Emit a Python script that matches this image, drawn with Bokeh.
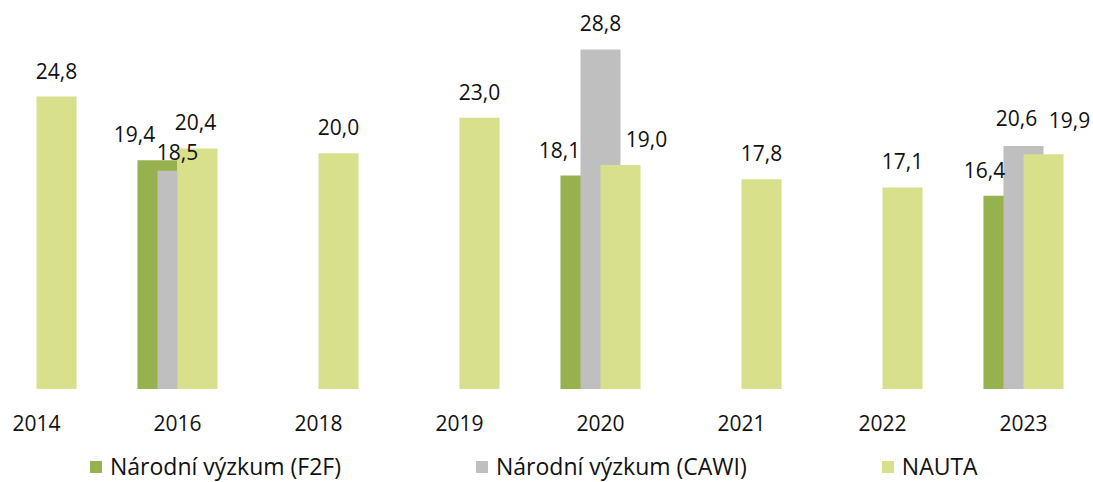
from bokeh.plotting import figure
from bokeh.models import ColumnDataSource, Legend, LegendItem, FixedTicker, Range1d
from bokeh.transform import dodge
from bokeh.core.properties import value
from bokeh.embed import file_html
from bokeh.resources import INLINE

# ---- data ----
years = ["2014", "2016", "2018", "2019", "2020", "2021", "2022", "2023"]
f2f = [None, 19.4, None, None, 18.1, None, None, 16.4]
cawi = [None, 18.5, None, None, 28.8, None, None, 20.6]
nauta = [24.8, 20.4, 20.0, 23.0, 19.0, 17.8, 17.1, 19.9]
series_names = ["Národní výzkum (F2F)", "Národní výzkum (CAWI)", "NAUTA"]

# ---- styling ----
colors = ["#97B14E", "#BFBFBF", "#D8E08B"]
FONT = "Open Sans"
FS = "21px"
LEG_FS = "23px"
bar_w = 0.284
dodges = [-0.142, 0.0, 0.142]
LABEL_GAP = -26
# label nudges in screen px (dx, dy) for crowded groups
nudges = {
    (0, "2016"): (-23, 0), (1, "2016"): (0, 7), (2, "2016"): (-2, 0),
    (0, "2020"): (-21, 0), (2, "2020"): (26, 0),
    (0, "2023"): (-19, 0), (1, "2023"): (-7, -2), (2, "2023"): (26, -8),
}

p = figure(width=1093, height=482, output_backend="svg",
           toolbar_location=None, min_border=0,
           y_axis_location=None,
           x_range=Range1d(-0.2553, 7.4965), y_range=Range1d(-7.93, 32.95))
p.outline_line_color = None
p.grid.visible = False
p.background_fill_color = None
p.border_fill_color = "white"

renderers = []
for si, vals in enumerate([f2f, cawi, nauta]):
    xs, ys, txt, dx, dy = [], [], [], [], []
    for i, v in enumerate(vals):
        if v is None:
            continue
        xs.append(i)
        ys.append(v)
        txt.append(f"{v:.1f}".replace(".", ","))
        n = nudges.get((si, years[i]), (0, 0))
        dx.append(n[0])
        dy.append(LABEL_GAP + n[1])
    src = ColumnDataSource(dict(x=xs, y=ys, t=txt, dx=dx, dy=dy))
    r = p.vbar(x=dodge("x", dodges[si], range=p.x_range), top="y", bottom=0,
               width=bar_w, source=src, fill_color=colors[si], line_color=None)
    renderers.append((r, src, si))

for r, src, si in renderers:
    p.text(x=dodge("x", dodges[si], range=p.x_range), y="y", text="t", source=src,
           x_offset="dx", y_offset="dy", text_align="center",
           text_baseline="alphabetic", text_font=value(FONT),
           text_font_size=FS, text_color="#111111")

ax = p.xaxis[0]
ax.fixed_location = 0
ax.ticker = FixedTicker(ticks=list(range(len(years))))
ax.major_label_overrides = {i: y for i, y in enumerate(years)}
ax.axis_line_color = None
ax.major_tick_line_color = None
ax.minor_tick_line_color = None
ax.major_tick_out = 0
ax.major_label_standoff = 26
ax.major_label_text_font = FONT
ax.major_label_text_font_size = FS
ax.major_label_text_color = "#111111"

legend = Legend(items=[LegendItem(label=series_names[si], renderers=[r])
                       for r, src, si in renderers],
                orientation="horizontal", location=(88, 0),
                glyph_width=15, glyph_height=15, label_standoff=7,
                spacing=133, padding=0, margin=0,
                border_line_color=None, background_fill_alpha=0,
                label_text_font=FONT, label_text_font_size=LEG_FS,
                label_text_color="#111111")
p.add_layout(legend, "center")

open("out.html", "w").write(file_html(p, INLINE))
